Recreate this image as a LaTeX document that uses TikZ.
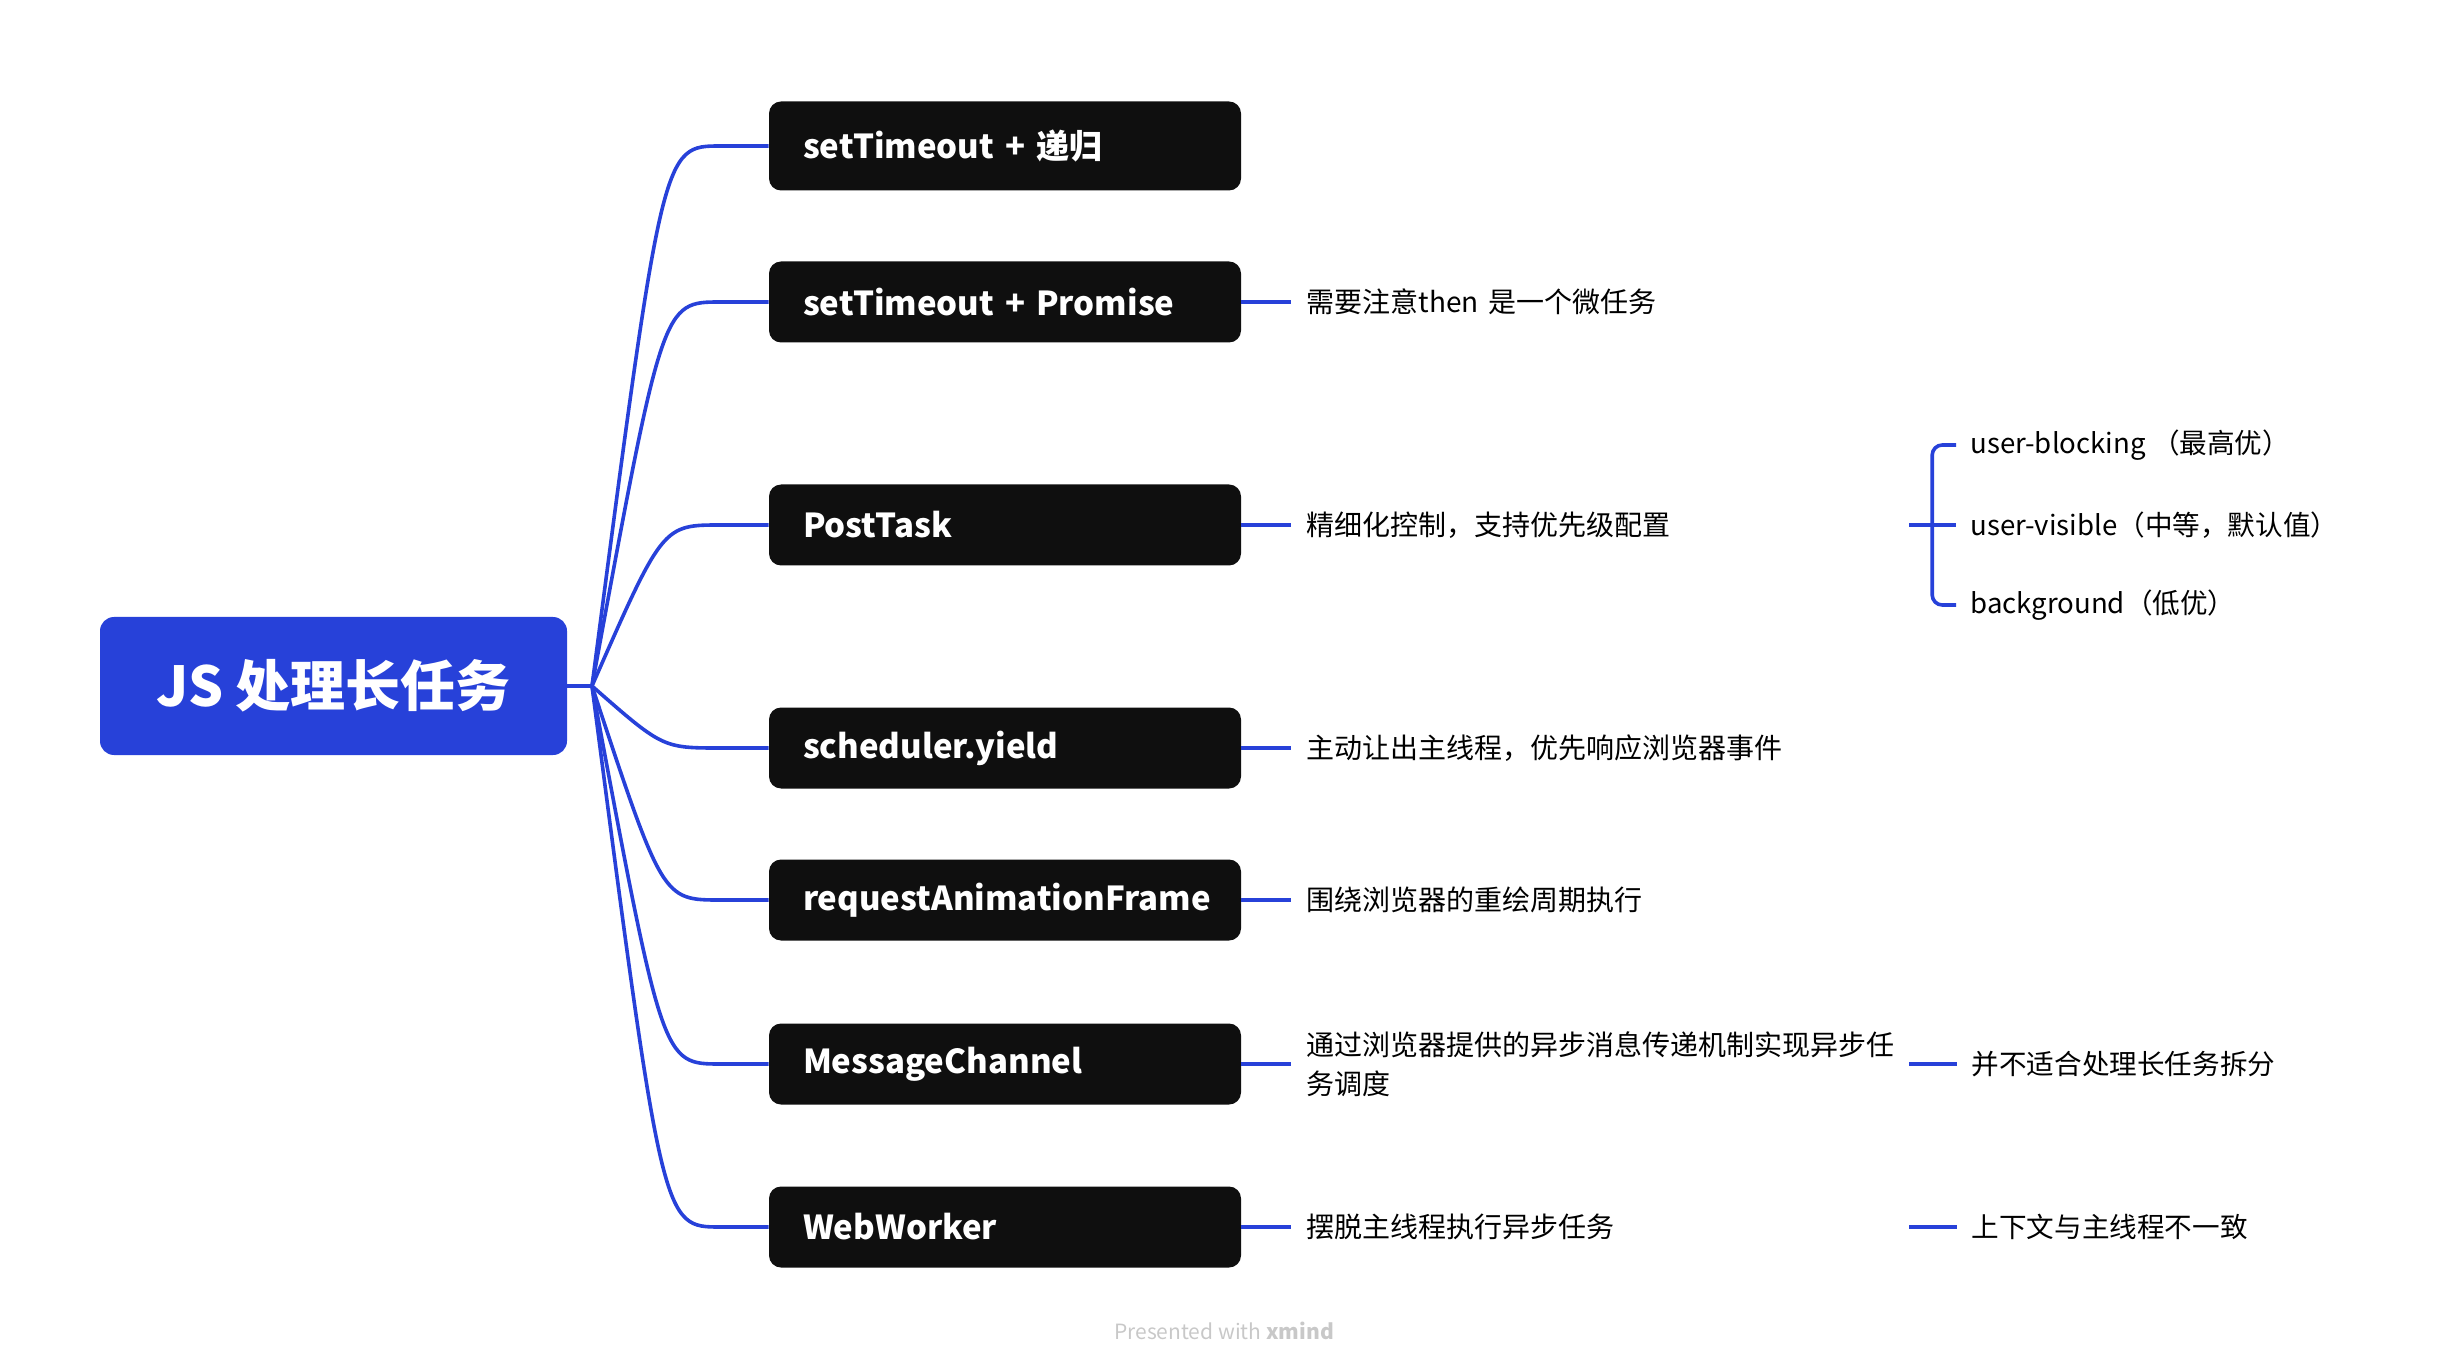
\documentclass[tikz,border=0pt]{standalone}
\usepackage{fontspec}
\setmainfont{Noto Sans CJK SC}
\usetikzlibrary{positioning}
\definecolor{mapblue}{HTML}{2741D9}
\definecolor{boxblack}{HTML}{0F0F0F}
\definecolor{markgray}{HTML}{C8C8C8}

\begin{document}
\begin{tikzpicture}[x=0.5pt, y=-0.5pt,
  root/.style={fill=mapblue, rounded corners=7pt, minimum width=233.5pt, minimum height=69pt, text=white, font=\fontsize{27.5}{33}\selectfont\bfseries},
  topic/.style={fill=boxblack, rounded corners=6pt, text width=202pt, inner xsep=17pt, minimum height=40.5pt, align=left, text=white, font=\fontsize{16.5}{20}\selectfont\bfseries},
  note/.style={text width=293.5pt, inner xsep=7.5pt, align=left, font=\fontsize{14}{19.5}\selectfont},
  leaf/.style={inner xsep=7pt, anchor=west, font=\fontsize{13.8}{19.5}\selectfont},
  link/.style={draw=mapblue, line width=1.8pt}
]
\useasboundingbox (0,0) rectangle (2450,1368);

\node[root] (root) at (333.5,686) {JS 处理长任务};
\coordinate (hub) at (592,686);

\node[topic, minimum height=44.5pt] (t1) at (1005,146) {setTimeout + 递归};
\node[topic] (t2) at (1005,302) {setTimeout + Promise};
\node[topic] (t3) at (1005,525) {PostTask};
\node[topic] (t4) at (1005,748) {scheduler.yield};
\node[topic] (t5) at (1005,900) {requestAnimationFrame};
\node[topic] (t6) at (1005,1064) {MessageChannel};
\node[topic] (t7) at (1005,1227) {WebWorker};

\node[note, right=25pt of t2] (n2) {需要注意then 是一个微任务};
\node[note, right=25pt of t3] (n3) {精细化控制，支持优先级配置};
\node[note, right=25pt of t4] (n4) {主动让出主线程，优先响应浏览器事件};
\node[note, right=25pt of t5] (n5) {围绕浏览器的重绘周期执行};
\node[note, right=25pt of t6] (n6) {通过浏览器提供的异步消息传递机制实现异步任\\务调度};
\node[note, right=25pt of t7] (n7) {摆脱主线程执行异步任务};

% PostTask priorities
\coordinate[right=11.5pt of n3] (pj);
\node[leaf] (p1) at (1956,445) {user-blocking （最高优）};
\node[leaf] (p2) at (1956,525) {user-visible（中等，默认值）};
\node[leaf] (p3) at (1956,605) {background（低优）};

\node[leaf, right=24pt of n6, inner xsep=7pt] (m1) {并不适合处理长任务拆分};
\node[leaf, right=24pt of n7, inner xsep=7pt] (w1) {上下文与主线程不一致};

\node[text=markgray, font=\fontsize{10.5}{12}\selectfont] (mark) at (1224,1331) {Presented with \textbf{xmind}};

\draw[link] (root.east) -- (hub);
\foreach \t in {t1,t2,t3,t4,t5,t6,t7}
  \draw[link] (hub) .. controls ([xshift=-53pt]\t.west) and ([xshift=-53pt]\t.west) .. ([xshift=-24pt]\t.west) -- (\t.west);

\foreach \t/\n in {t2/n2,t3/n3,t4/n4,t5/n5,t6/n6,t7/n7}
  \draw[link] (\t.east) -- (\n.west);

\draw[link] (n3.east) -- (p2.west);
\draw[link, rounded corners=5pt] (pj) |- (p1.west);
\draw[link, rounded corners=5pt] (pj) |- (p3.west);
\draw[link] (n6.east) -- (m1.west);
\draw[link] (n7.east) -- (w1.west);
\end{tikzpicture}
\end{document}
